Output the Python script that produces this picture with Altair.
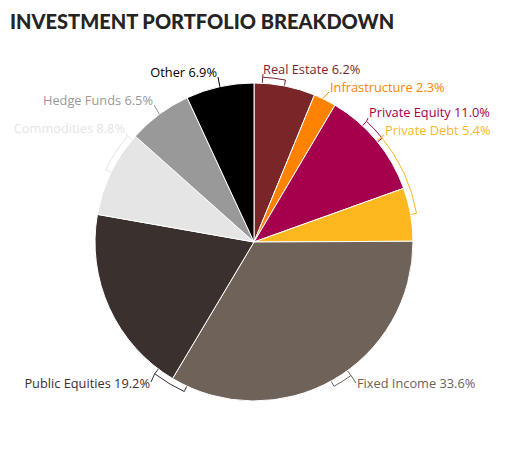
import math
import altair as alt
import pandas as pd

# slices, clockwise from 12 o'clock
categories = ["Real Estate", "Infrastructure", "Private Equity", "Private Debt",
              "Fixed Income", "Public Equities", "Commodities", "Hedge Funds", "Other"]
shares = [6.2, 2.3, 11.0, 5.4, 33.6, 19.2, 8.8, 6.5, 6.9]
colors = ["#7a2629", "#ff8300", "#a5004d", "#fdb71f", "#6e6259",
          "#3a302d", "#e5e5e5", "#999999", "#000000"]

# label layout (page pixels / degrees clockwise from top)
bracket_from = [3, None, 43, 50.5, 144, 205, 296, None, None]
bracket_to = [11, None, 51, 80, 151, 217, 310, None, None]
lead_angle = [3, 25.6, 43, 50.5, 144, 217, 310, 323.5, 347.6]
lead_end = [(263, 74), (329, 92), (368, 118), (384, 135), (356, 383),
            (151, 382), (126, 133), (154, 105), (218, 77)]
text_pos = [(263, 70), (330, 88), (369, 113), (385, 131), (357, 384),
            (150, 384), (125, 129), (153, 101), (217, 73)]
text_align = ["left", "left", "left", "left", "left", "right", "right", "right", "right"]

OX, OY = 8, 48          # plot origin on the page
CX, CY = 254 - OX, 242 - OY
R = 159
RB = 165                # bracket radius

pie_df = pd.DataFrame({"name": categories, "share": shares, "idx": range(len(categories))})
pie_df["label"] = [f"{n} {s:.1f}%" for n, s in zip(categories, shares)]

color = alt.Color("name:N", scale=alt.Scale(domain=categories, range=colors), legend=None)

rows_b, rows_l = [], []
for i, name in enumerate(categories):
    if bracket_from[i] is not None:
        rows_b.append({"name": name, "t0": math.radians(bracket_from[i]),
                       "t1": math.radians(bracket_to[i])})
    r0 = RB if bracket_from[i] is not None else R
    a = math.radians(lead_angle[i])
    rows_l.append({"name": name,
                   "x": CX + r0 * math.sin(a), "y": CY - r0 * math.cos(a),
                   "x2": lead_end[i][0] - OX, "y2": lead_end[i][1] - OY})
br_df = pd.DataFrame(rows_b)
ld_df = pd.DataFrame(rows_l)

txt_df = pie_df.copy()
txt_df["tx"] = [p[0] - OX for p in text_pos]
txt_df["ty"] = [p[1] - OY for p in text_pos]
txt_df["align"] = text_align

brackets = alt.Chart(br_df).mark_arc(
    filled=False, strokeWidth=1, innerRadius=R - 2, outerRadius=RB
).encode(
    theta=alt.Theta("t0:Q", scale=None), theta2="t1:Q",
    stroke=alt.Stroke("name:N", scale=alt.Scale(domain=categories, range=colors), legend=None),
    x=alt.value(CX), y=alt.value(CY)
)

pie = alt.Chart(pie_df).mark_arc(outerRadius=R, stroke="white", strokeWidth=1).encode(
    theta=alt.Theta("share:Q", stack=True),
    order=alt.Order("idx:Q"),
    color=color,
    x=alt.value(CX), y=alt.value(CY)
)

leaders = alt.Chart(ld_df).mark_rule(strokeWidth=1).encode(
    x=alt.X("x:Q", scale=None, axis=None), y=alt.Y("y:Q", scale=None, axis=None),
    x2="x2:Q", y2="y2:Q",
    color=color
)

def labels(align):
    return alt.Chart(txt_df[txt_df["align"] == align]).mark_text(
        align=align, baseline="middle", font="Open Sans", fontSize=12.8
    ).encode(
        x=alt.X("tx:Q", scale=None, axis=None), y=alt.Y("ty:Q", scale=None, axis=None),
        text="label:N", color=color
    )

chart = alt.layer(brackets, pie, leaders, labels("left"), labels("right")).properties(
    width=490, height=400,
    padding={"left": 0, "top": 40, "right": 0, "bottom": 0},
    autosize=alt.AutoSizeParams(type="none"),
    title=alt.TitleParams("INVESTMENT PORTFOLIO BREAKDOWN", anchor="start", font="Lato",
                          fontSize=20, fontWeight=900, color="#252423", dx=2, offset=15),
).configure_view(stroke=None)

chart.save("out.html", embed_options={"renderer": "svg", "actions": False})
